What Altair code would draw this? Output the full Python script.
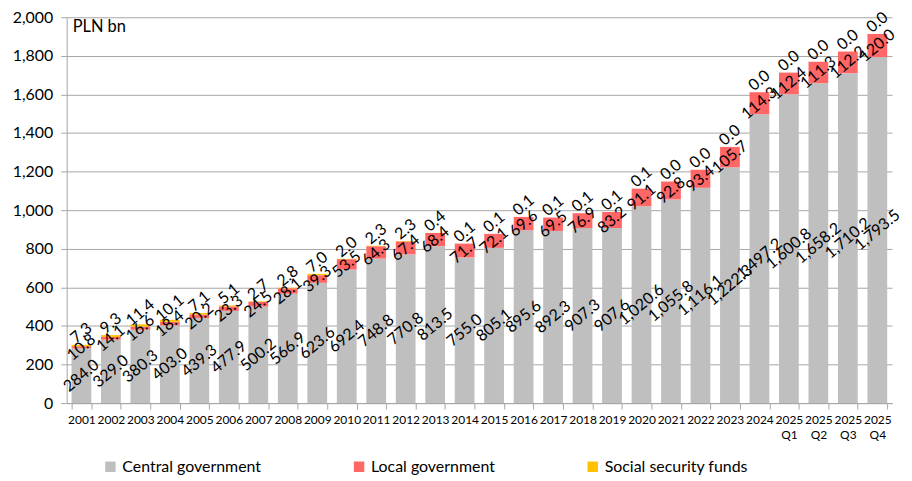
import altair as alt
import pandas as pd

categories = [str(y) for y in range(2001, 2025)] + ["2025 Q1", "2025 Q2", "2025 Q3", "2025 Q4"]
central = [284.0, 329.0, 380.3, 403.0, 439.3, 477.9, 500.2, 566.9, 623.6, 692.4, 748.8, 770.8,
           813.5, 755.0, 805.1, 895.6, 892.3, 907.3, 907.6, 1020.6, 1055.8, 1116.1, 1222.3,
           1497.2, 1600.8, 1658.2, 1710.2, 1793.5]
local = [10.8, 14.1, 16.6, 18.4, 20.2, 23.3, 24.5, 28.1, 39.3, 53.5, 64.3, 67.4, 68.4, 71.7,
         72.1, 69.6, 69.5, 76.9, 83.2, 91.1, 92.8, 93.4, 105.7, 114.3, 112.4, 111.3, 112.2, 120.0]
social = [7.3, 9.3, 11.4, 10.1, 7.1, 5.1, 2.7, 2.8, 7.0, 2.0, 2.3, 2.3, 0.4, 0.1, 0.1, 0.1,
          0.1, 0.1, 0.1, 0.1, 0.0, 0.0, 0.0, 0.0, 0.0, 0.0, 0.0, 0.0]
y_ticks = list(range(0, 2001, 200))
series = ["Central government", "Local government", "Social security funds"]
colors = ["#BFBFBF", "#FF6666", "#FFC000"]

rows = []
for i, c in enumerate(categories):
    for k, (name, vals) in enumerate(zip(series, [central, local, social])):
        rows.append({"cat": c, "series": name, "value": vals[i], "ord": k})
df = pd.DataFrame(rows)

FONT = "Lato"

x_scale = alt.Scale(paddingInner=0.33, paddingOuter=0.165)
x_axis = alt.Axis(labelAngle=0, labelExpr="split(datum.label, ' ')",
                  tickBand="extent", tickSize=6, tickColor="#A6A6A6",
                  domainColor="#A6A6A6", labelFontSize=12, labelFont=FONT,
                  labelColor="#000000", labelPadding=6, labelLineHeight=15,
                  grid=False)
y_scale = alt.Scale(domain=[0, 2000], nice=False)
y_axis = alt.Axis(values=y_ticks, format=",.0f", tickSize=6,
                  tickColor="#A6A6A6", domainColor="#A6A6A6",
                  gridColor="#A6A6A6", labelFontSize=16, labelFont=FONT,
                  labelColor="#000000", labelPadding=8, labelOverlap=False)


def xenc():
    return alt.X("cat:N", sort=categories, title=None, scale=x_scale, axis=x_axis)


base = alt.Chart(df)

bars = base.mark_bar().encode(
    x=xenc(),
    y=alt.Y("value:Q", stack="zero", scale=y_scale, title=None, axis=y_axis),
    color=alt.Color("series:N", sort=series,
                    scale=alt.Scale(domain=series, range=colors),
                    legend=alt.Legend(title=None, orient="none", legendX=36, legendY=444,
                                      direction="horizontal", columns=3, columnPadding=90,
                                      symbolType="square", symbolSize=110,
                                      symbolStrokeWidth=0, labelFontSize=16,
                                      labelFont=FONT, labelColor="#000000", labelOffset=4)),
    order=alt.Order("ord:Q"),
)

stacked = base.transform_stack(
    stack="value", groupby=["cat"], as_=["y0", "y1"], sort=[alt.SortField("ord")]
).transform_calculate(
    mid="(datum.y0 + datum.y1) / 2",
    lbl="format(datum.value, ',.1f')",
)

LBL = 16

inner_labels = stacked.transform_filter("datum.ord < 2").mark_text(
    angle=320, align="center", baseline="middle", fontSize=LBL, font=FONT, color="#000000"
).encode(
    x=xenc(),
    y=alt.Y("mid:Q", scale=y_scale, title=None, axis=y_axis),
    text="lbl:N",
)

top_labels = stacked.transform_filter("datum.ord == 2").mark_text(
    angle=320, align="center", baseline="middle", fontSize=LBL, font=FONT, color="#000000",
    dx=7.5, dy=-9
).encode(
    x=xenc(),
    y=alt.Y("y1:Q", scale=y_scale, title=None, axis=y_axis),
    text="lbl:N",
)

unit = alt.Chart(pd.DataFrame({"t": ["PLN bn"]})).mark_text(
    align="left", baseline="middle", fontSize=16.5, font=FONT, color="#000000"
).encode(x=alt.value(6), y=alt.value(10), text="t:N")

chart = alt.layer(bars, inner_labels, top_labels, unit).properties(
    width=830, height=388,
    autosize=alt.AutoSizeParams(type="none"),
    padding={"left": 59, "top": 8, "right": 12, "bottom": 74},
).configure_view(stroke=None)

chart.save("out.html", embed_options={"renderer": "svg", "actions": False})
